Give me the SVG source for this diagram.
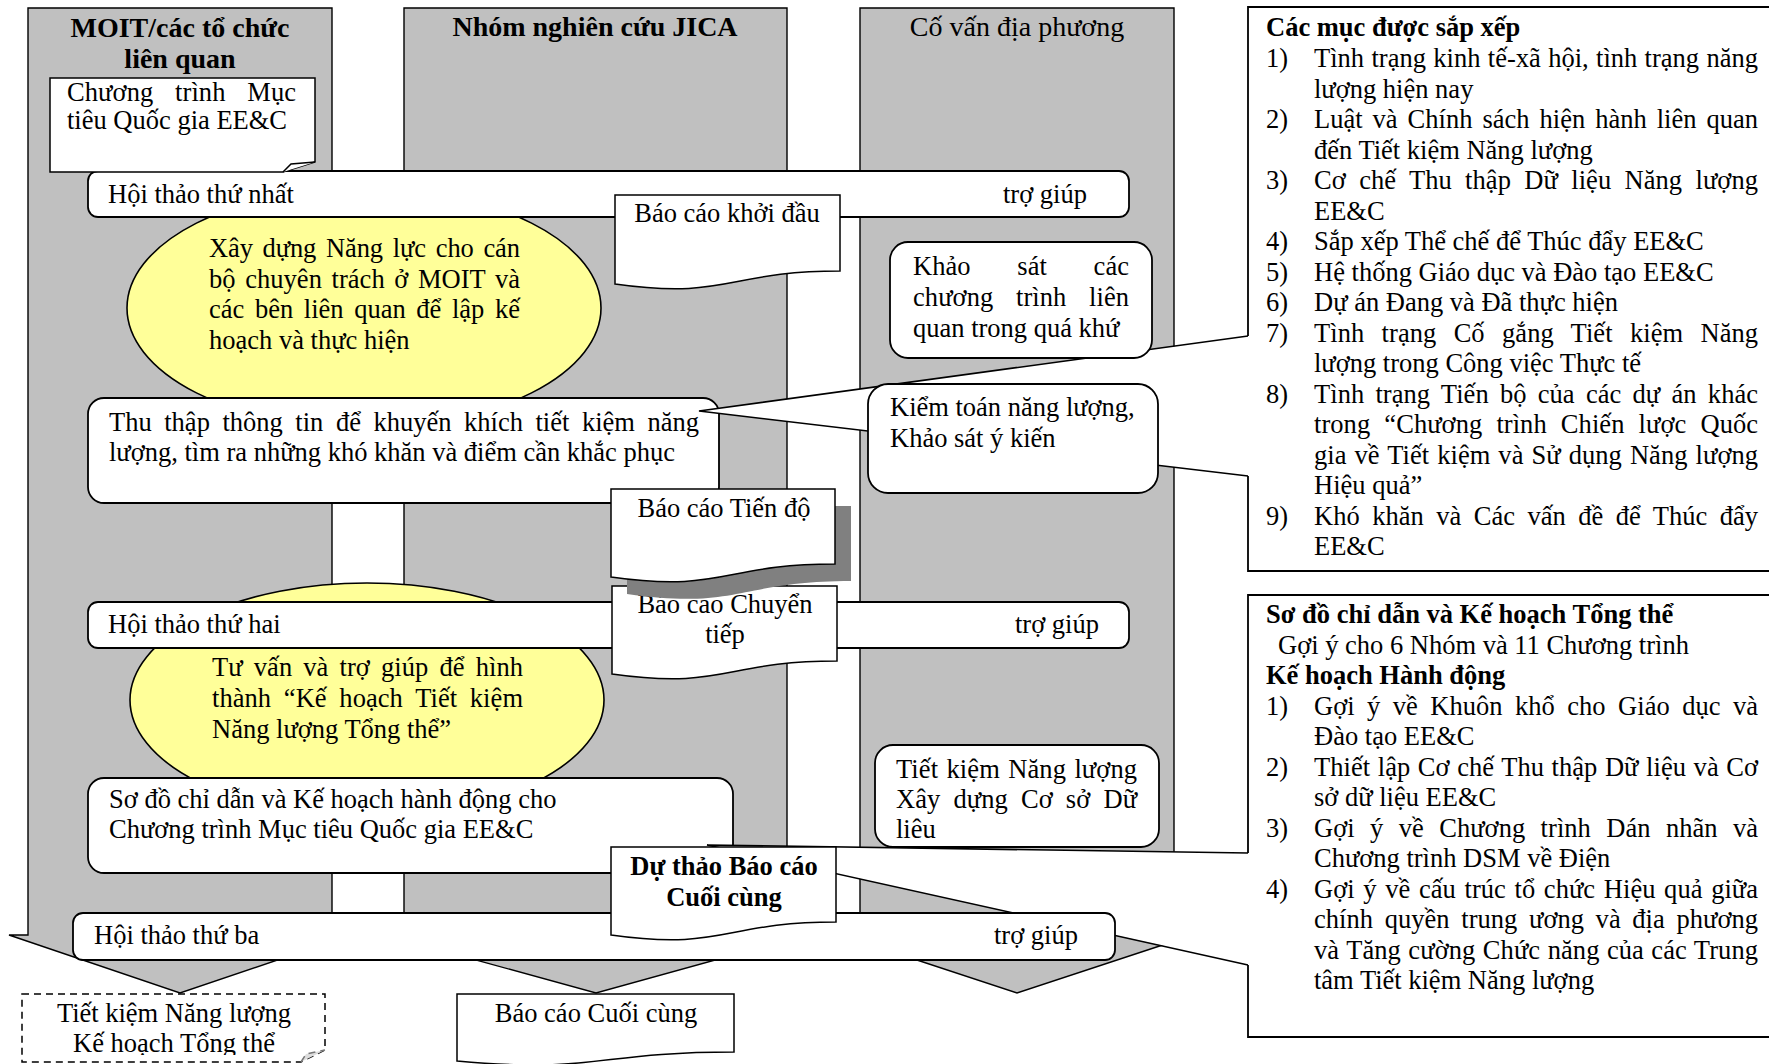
<svg xmlns="http://www.w3.org/2000/svg" width="1769" height="1064" viewBox="0 0 1769 1064">
<style>
text{font-family:"Liberation Serif","Times New Roman",serif;font-size:26.5px;fill:#000}
.b{font-weight:bold}
.t{font-size:28px;font-weight:bold}
.tr{font-size:28px}
.c{text-anchor:middle}
.col{fill:#C0C0C0;stroke:#000;stroke-width:1.4}
.ell{fill:#FFFF99;stroke:#000;stroke-width:1.6}
.box{fill:#fff;stroke:#000;stroke-width:1.8}
.doc{fill:#fff;stroke:#000;stroke-width:1.5}
.ln{fill:none;stroke:#000;stroke-width:1.6}
.dash{fill:#fff;stroke:#000;stroke-width:1.5;stroke-dasharray:7 5}
</style>
<defs>
<clipPath id="clipDash"><rect x="0" y="990" width="340" height="65"/></clipPath>
</defs>

<g id="lane-moit">
<path class="col" d="M28,8 H332 V935 H351 L180,993 L9,935 H28 Z"/>
<text class="t c" x="180" y="37">MOIT/các tổ chức</text>
<text class="t c" x="180" y="68">liên quan</text>
</g>
<g id="lane-jica">
<path class="col" d="M404,8 H787 V935 H806 L596,993 L385,935 H404 Z"/>
<text class="t c" x="595" y="36">Nhóm nghiên cứu JICA</text>
</g>
<g id="lane-local">
<path class="col" d="M860,8 H1174 V935 H1193 L1017,993 L841,935 H860 Z"/>
<text class="tr c" x="1017" y="36">Cố vấn địa phương</text>
</g>

<g id="ellipse-capacity">
<ellipse class="ell" cx="364" cy="308" rx="237" ry="120"/>
</g>
<g id="ellipse-advice">
<ellipse class="ell" cx="367" cy="700" rx="237" ry="117"/>
<text x="212" y="676" textLength="311" lengthAdjust="spacing" word-spacing="4.5">Tư vấn và trợ giúp để hình</text>
<text x="212" y="707" textLength="311" lengthAdjust="spacing" word-spacing="6">thành “Kế hoạch Tiết kiệm</text>
<text x="212" y="738">Năng lượng Tổng thể”</text>
</g>

<g id="workshop-1">
<rect class="box" x="88" y="171" width="1041" height="46" rx="10"/>
<text x="108" y="203">Hội thảo thứ nhất</text>
<text x="1003" y="203">trợ giúp</text>
</g>
<g id="ellipse-capacity-text">
<text x="209" y="257" textLength="311" lengthAdjust="spacing" word-spacing="3.3">Xây dựng Năng lực cho cán</text>
<text x="209" y="287.5" textLength="311" lengthAdjust="spacing" word-spacing="2.9">bộ chuyên trách ở MOIT và</text>
<text x="209" y="318" textLength="311" lengthAdjust="spacing" word-spacing="4">các bên liên quan để lập kế</text>
<text x="209" y="348.5">hoạch và thực hiện</text>
</g>
<g id="workshop-2">
<rect class="box" x="88" y="602" width="1041" height="46" rx="10"/>
<text x="108" y="633">Hội thảo thứ hai</text>
<text x="1015" y="633">trợ giúp</text>
</g>

<g id="national-program">
<path class="doc" d="M50,78 H315 V162 L283,172 H50 Z"/>
<path class="doc" d="M283,172 L291,164 L315,162"/>
<text x="67" y="101" textLength="229" lengthAdjust="spacing" word-spacing="15">Chương trình Mục</text>
<text x="67" y="129">tiêu Quốc gia EE&amp;C</text>
</g>
<g id="collect-info">
<rect class="box" x="88" y="398" width="631" height="105" rx="16"/>
<text x="109" y="431" textLength="590" lengthAdjust="spacing" word-spacing="5.9">Thu thập thông tin để khuyến khích tiết kiệm năng</text>
<text x="109" y="461">lượng, tìm ra những khó khăn và điểm cần khắc phục</text>
</g>
<g id="roadmap-action">
<rect class="box" x="88" y="778" width="645" height="95" rx="16"/>
<text x="109" y="808">Sơ đồ chỉ dẫn và Kế hoạch hành động cho</text>
<text x="109" y="838">Chương trình Mục tiêu Quốc gia EE&amp;C</text>
</g>

<g id="connectors">
<polygon points="1250,336 699,411 1250,476" fill="#fff"/>
<path class="ln" d="M1248,336 L699,411 L1248,476"/>
<polygon points="1250,853 707,845 1250,965" fill="#fff"/>
<path class="ln" d="M1248,853 L707,845 L1248,965"/>
</g>

<g id="survey-past">
<rect class="box" x="890" y="242" width="262" height="116" rx="18"/>
<text x="913" y="275" textLength="216" lengthAdjust="spacing" word-spacing="40">Khảo sát các</text>
<text x="913" y="306" textLength="216" lengthAdjust="spacing" word-spacing="16">chương trình liên</text>
<text x="913" y="337">quan trong quá khứ</text>
</g>
<g id="energy-audit">
<rect class="box" x="868" y="384" width="290" height="109" rx="20"/>
<text x="890" y="416">Kiểm toán năng lượng,</text>
<text x="890" y="447">Khảo sát ý kiến</text>
</g>
<g id="database">
<rect class="box" x="875" y="745" width="284" height="102" rx="18"/>
<text x="896" y="778" textLength="241" lengthAdjust="spacing" word-spacing="1.7">Tiết kiệm Năng lượng</text>
<text x="896" y="808" textLength="241" lengthAdjust="spacing" word-spacing="6.3">Xây dựng Cơ sở Dữ</text>
<text x="896" y="838">liêu</text>
</g>

<g id="inception-report">
<path class="doc" d="M615,195 H840 V271 C727.5,271 727.5,300 615,284 Z"/>
<text class="c" x="727" y="222">Báo cáo khởi đầu</text>
</g>
<g id="interim-report">
<path class="doc" d="M612,586 H837 V661 C724.5,661 724.5,690 612,674 Z"/>
<text class="c" x="725" y="613">Báo cáo Chuyển</text>
<text class="c" x="725" y="643">tiếp</text>
</g>
<g id="progress-report">
<path fill="#808080" d="M627,506 H851 V581 C739,581 739,610 627,594 Z"/>
<path class="doc" d="M611,489 H835 V564 C723,564 723,593 611,577 Z"/>
<text class="c" x="724" y="517">Báo cáo Tiến độ</text>
</g>

<g id="workshop-3">
<rect class="box" x="73" y="913" width="1042" height="47" rx="10"/>
<text x="94" y="944">Hội thảo thứ ba</text>
<text x="994" y="944">trợ giúp</text>
</g>
<g id="draft-final-report">
<path class="doc" d="M611,847 H836 V922 C723.5,922 723.5,951 611,935 Z"/>
<text class="b c" x="724" y="875">Dự thảo Báo cáo</text>
<text class="b c" x="724" y="906">Cuối cùng</text>
</g>
<g id="master-plan">
<path class="dash" d="M22,994 H325 V1050 L301,1062 H22 Z"/>
<path fill="#ddd" stroke="#777" stroke-width="1.5" stroke-dasharray="7 5" d="M301,1062 L306,1054 L325,1050"/>
<g clip-path="url(#clipDash)">
<text class="c" x="174" y="1022">Tiết kiệm Năng lượng</text>
<text class="c" x="174" y="1052">Kế hoạch Tổng thể</text>
</g>
</g>
<g id="final-report">
<path class="doc" d="M457,994 H734 V1052 C595.5,1052 595.5,1074 457,1061 Z"/>
<text class="c" x="596" y="1022">Báo cáo Cuối cùng</text>
</g>

<g id="panel-items">
<path class="box" d="M1248,336 V7 H1775 V571 H1248 V476"/>
<text class="b" x="1266" y="36">Các mục được sắp xếp</text>
<text x="1266" y="67">1)</text>
<text x="1314" y="67" textLength="444" lengthAdjust="spacing" word-spacing="0.7">Tình trạng kinh tế-xã hội, tình trạng năng</text>
<text x="1314" y="97.5">lượng hiện nay</text>
<text x="1266" y="128">2)</text>
<text x="1314" y="128" textLength="444" lengthAdjust="spacing" word-spacing="3.4">Luật và Chính sách hiện hành liên quan</text>
<text x="1314" y="158.5">đến Tiết kiệm Năng lượng</text>
<text x="1266" y="189">3)</text>
<text x="1314" y="189" textLength="444" lengthAdjust="spacing" word-spacing="6.6">Cơ chế Thu thập Dữ liệu Năng lượng</text>
<text x="1314" y="219.5">EE&amp;C</text>
<text x="1266" y="250">4)</text>
<text x="1314" y="250">Sắp xếp Thể chế để Thúc đẩy EE&amp;C</text>
<text x="1266" y="280.5">5)</text>
<text x="1314" y="280.5">Hệ thống Giáo dục và Đào tạo EE&amp;C</text>
<text x="1266" y="311">6)</text>
<text x="1314" y="311">Dự án Đang và Đã thực hiện</text>
<text x="1266" y="341.5">7)</text>
<text x="1314" y="341.5" textLength="444" lengthAdjust="spacing" word-spacing="10.7">Tình trạng Cố gắng Tiết kiệm Năng</text>
<text x="1314" y="372">lượng trong Công việc Thực tế</text>
<text x="1266" y="402.5">8)</text>
<text x="1314" y="402.5" textLength="444" lengthAdjust="spacing" word-spacing="4.6">Tình trạng Tiến bộ của các dự án khác</text>
<text x="1314" y="433" textLength="444" lengthAdjust="spacing" word-spacing="7.5">trong “Chương trình Chiến lược Quốc</text>
<text x="1314" y="463.5" textLength="444" lengthAdjust="spacing" word-spacing="1.3">gia về Tiết kiệm và Sử dụng Năng lượng</text>
<text x="1314" y="494">Hiệu quả”</text>
<text x="1266" y="524.5">9)</text>
<text x="1314" y="524.5" textLength="444" lengthAdjust="spacing" word-spacing="5.8">Khó khăn và Các vấn đề để Thúc đẩy</text>
<text x="1314" y="555">EE&amp;C</text>
</g>

<g id="panel-roadmap">
<path class="box" d="M1248,853 V595 H1775 V1037 H1248 V965"/>
<text class="b" x="1266" y="623">Sơ đồ chỉ dẫn và Kế hoạch Tổng thể</text>
<text x="1278" y="653.5">Gợi ý cho 6 Nhóm và 11 Chương trình</text>
<text class="b" x="1266" y="684">Kế hoạch Hành động</text>
<text x="1266" y="714.5">1)</text>
<text x="1314" y="714.5" textLength="444" lengthAdjust="spacing" word-spacing="5.8">Gợi ý về Khuôn khổ cho Giáo dục và</text>
<text x="1314" y="745">Đào tạo EE&amp;C</text>
<text x="1266" y="775.5">2)</text>
<text x="1314" y="775.5" textLength="444" lengthAdjust="spacing" word-spacing="0.9">Thiết lập Cơ chế Thu thập Dữ liệu và Cơ</text>
<text x="1314" y="806">sở dữ liệu EE&amp;C</text>
<text x="1266" y="836.5">3)</text>
<text x="1314" y="836.5" textLength="444" lengthAdjust="spacing" word-spacing="8.7">Gợi ý về Chương trình Dán nhãn và</text>
<text x="1314" y="867">Chương trình DSM về Điện</text>
<text x="1266" y="897.5">4)</text>
<text x="1314" y="897.5" textLength="444" lengthAdjust="spacing" word-spacing="2">Gợi ý về cấu trúc tổ chức Hiệu quả giữa</text>
<text x="1314" y="928" textLength="444" lengthAdjust="spacing" word-spacing="4.9">chính quyền trung ương và địa phương</text>
<text x="1314" y="958.5" textLength="444" lengthAdjust="spacing" word-spacing="0.7">và Tăng cường Chức năng của các Trung</text>
<text x="1314" y="989">tâm Tiết kiệm Năng lượng</text>
</g>
</svg>
